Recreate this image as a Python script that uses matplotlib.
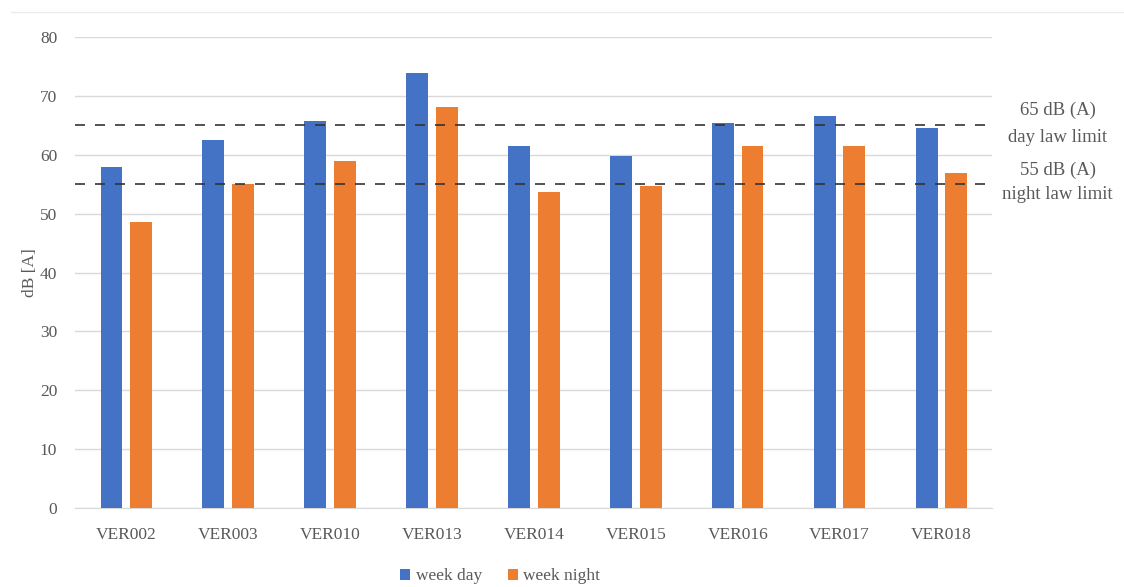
import matplotlib.pyplot as plt
import numpy as np

sites = ["VER002", "VER003", "VER010", "VER013", "VER014",
         "VER015", "VER016", "VER017", "VER018"]
week_day = [58.0, 62.5, 65.8, 73.9, 61.5, 59.8, 65.5, 66.6, 64.5]
week_night = [48.6, 55.0, 58.9, 68.1, 53.7, 54.7, 61.5, 61.5, 56.9]
day_limit = 65
night_limit = 55

BLUE = "#4472C4"
ORANGE = "#ED7D31"
TEXT = "#595959"

plt.rcParams["font.family"] = ["Liberation Serif", "DejaVu Serif"]

fig = plt.figure(figsize=(11.24, 5.87), dpi=100)
ax = fig.add_axes([0.067, 0.1346, 0.816, 0.802])

x = np.arange(len(sites))
w = 0.215
ax.bar(x - 0.145, week_day, w, color=BLUE, label="week day", zorder=3)
ax.bar(x + 0.145, week_night, w, color=ORANGE, label="week night", zorder=3)

ax.set_xlim(-0.5, len(sites) - 0.5)
ax.set_ylim(0, 80)
ax.set_yticks(range(0, 81, 10))
ax.set_xticks(x)
ax.set_xticklabels(sites)
ax.tick_params(length=0, labelsize=12.5, colors=TEXT)
ax.tick_params(axis="x", pad=14)
ax.tick_params(axis="y", pad=13)
ax.yaxis.grid(True, color="#d9d9d9", lw=1, zorder=0)
for s in ["top", "right", "left"]:
    ax.spines[s].set_visible(False)
ax.spines["bottom"].set_color("#d9d9d9")
ax.set_ylabel("dB [A]", fontsize=12.5, color=TEXT, labelpad=1)

# faint frame line at the top of the chart
fig.add_artist(plt.Line2D([0.01, 1.0], [0.98, 0.98], color="#ececec", lw=1))

# law limits
for lim in (day_limit, night_limit):
    ax.axhline(lim, color="#333333", lw=1.2, dashes=(6, 6), zorder=4)

tx = 1.071
fs = 13.5
ax.text(tx, (day_limit + 2.6) / 80, f"{day_limit} dB (A)", transform=ax.transAxes,
        ha="center", va="center", fontsize=fs, color=TEXT)
ax.text(tx, (day_limit - 2.0) / 80, "day law limit", transform=ax.transAxes,
        ha="center", va="center", fontsize=fs, color=TEXT)
ax.text(tx, (night_limit + 2.4) / 80, f"{night_limit} dB (A)", transform=ax.transAxes,
        ha="center", va="center", fontsize=fs, color=TEXT)
ax.text(tx, (night_limit - 1.7) / 80, "night law limit", transform=ax.transAxes,
        ha="center", va="center", fontsize=fs, color=TEXT)

leg = fig.legend(loc="lower center", bbox_to_anchor=(0.445, -0.022), ncol=2,
                 frameon=False, fontsize=12.5, handlelength=0.6, handleheight=0.6,
                 handletextpad=0.3, columnspacing=1.5)
for t in leg.get_texts():
    t.set_color(TEXT)

fig.savefig("out.png", dpi=100)
